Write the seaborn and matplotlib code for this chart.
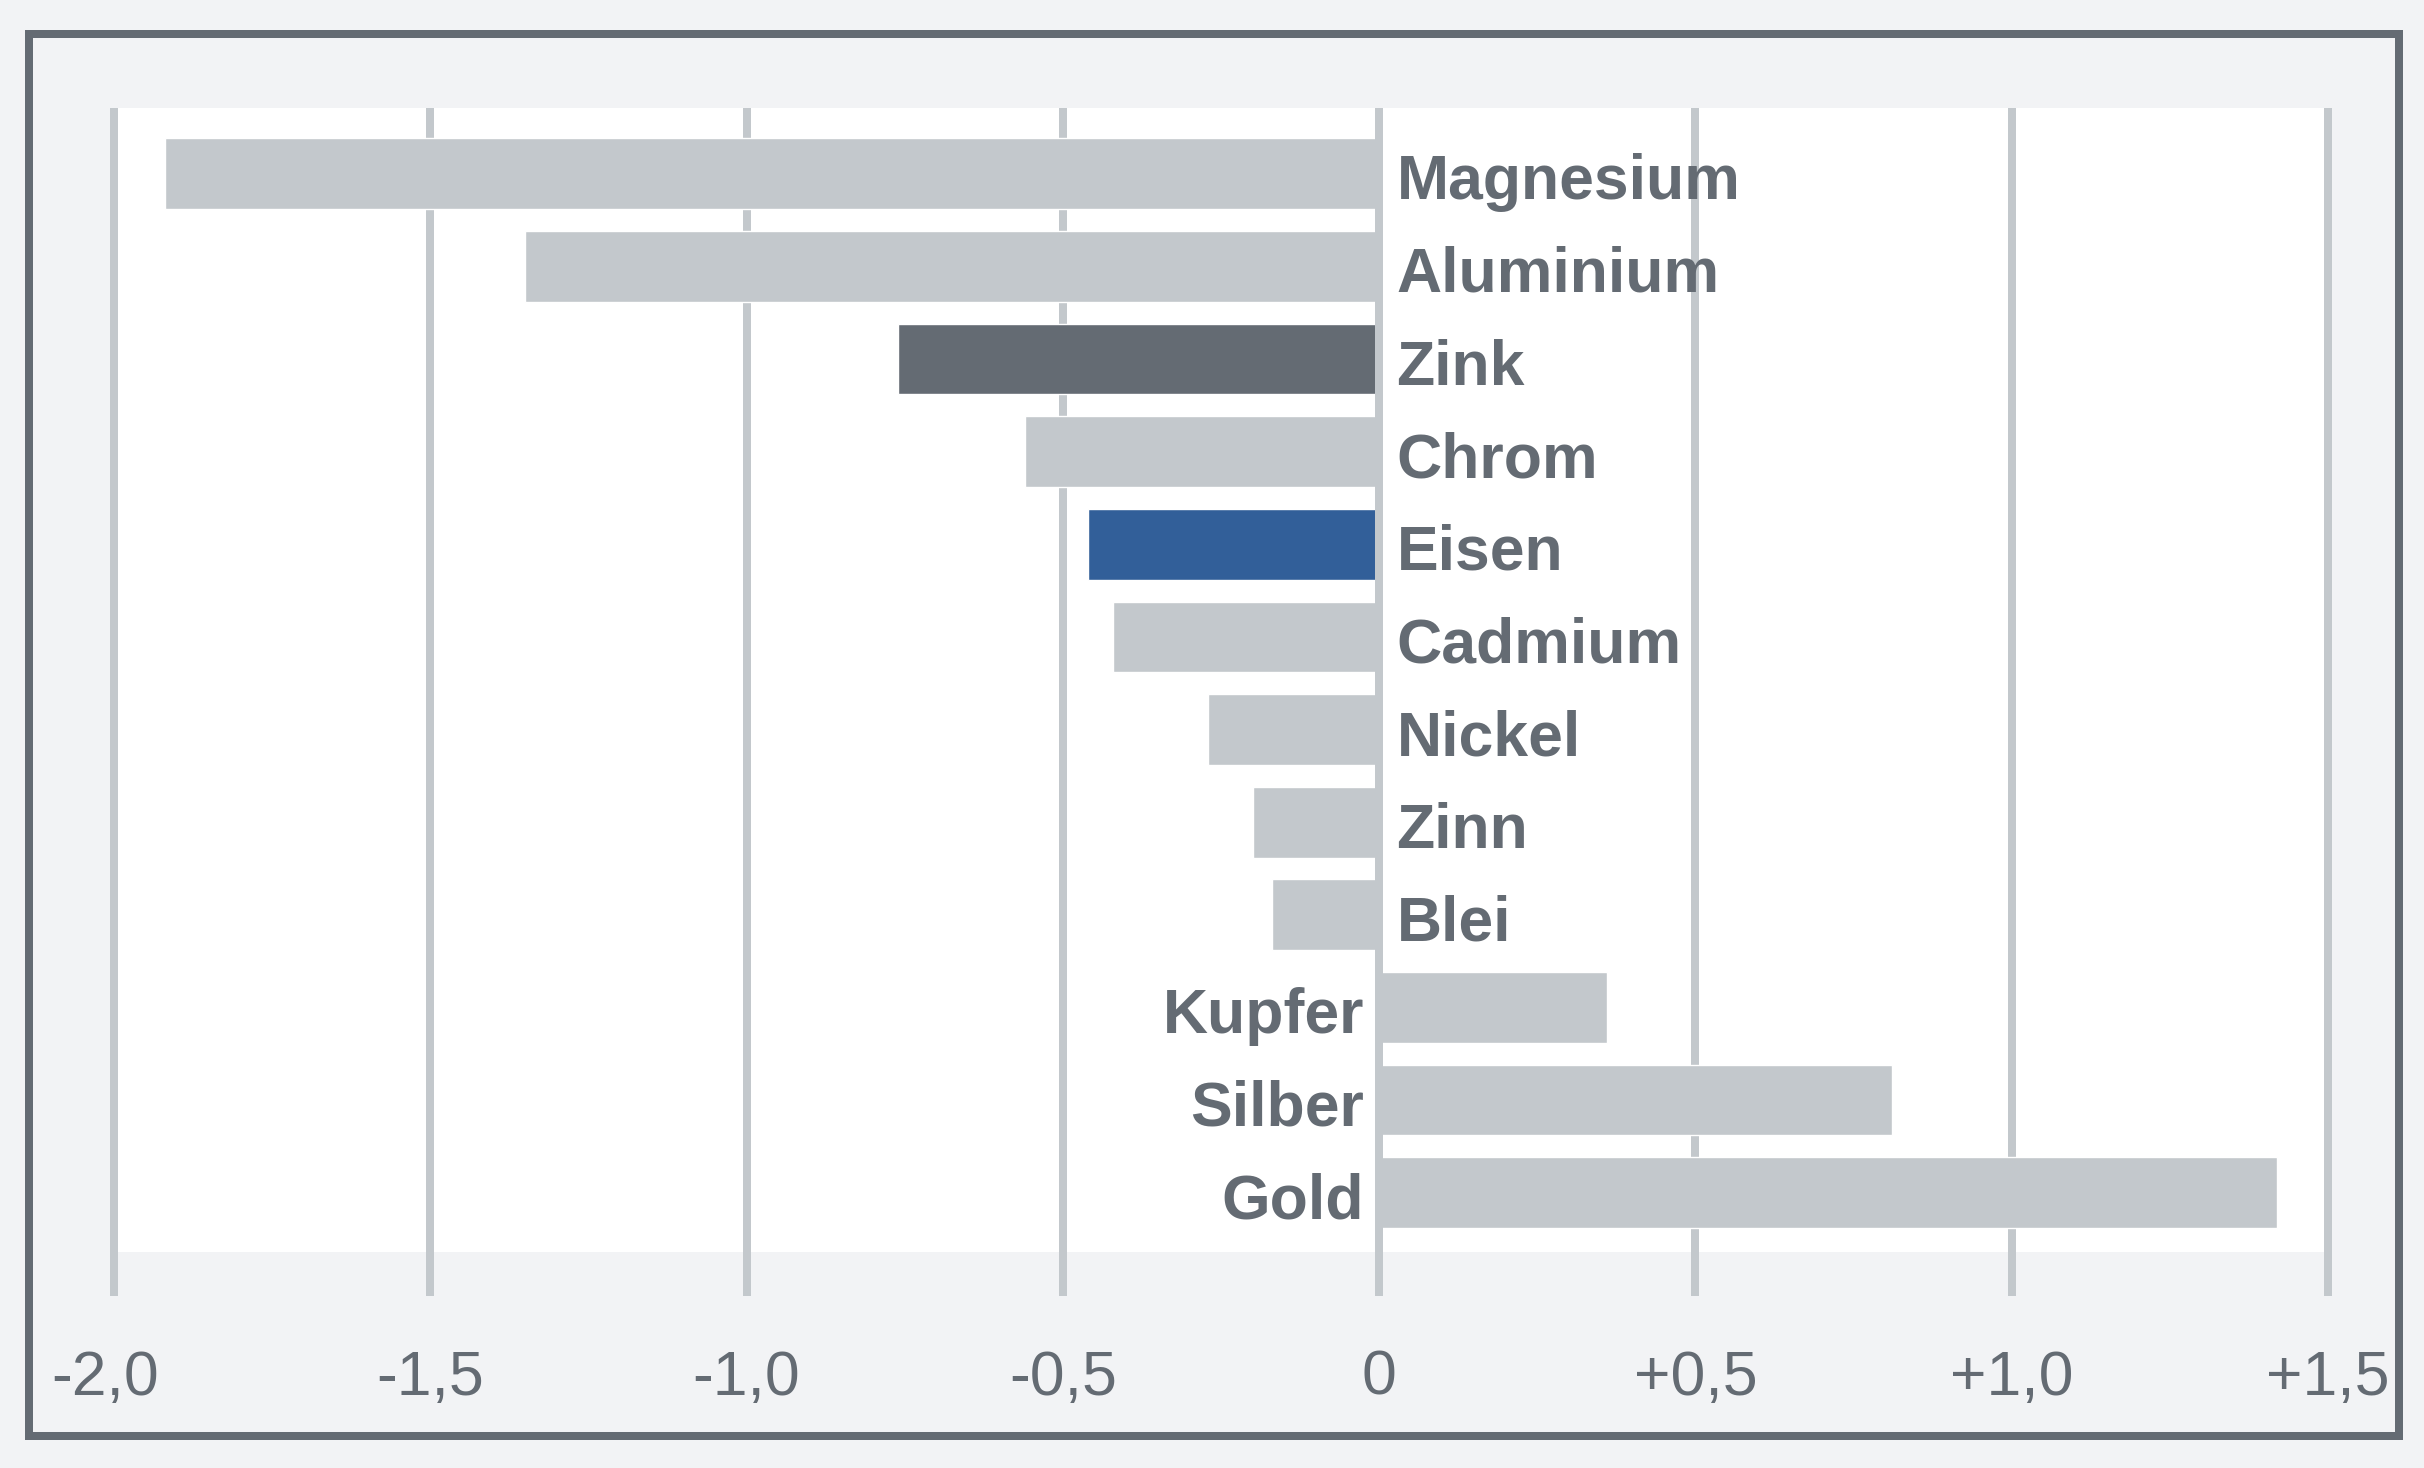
import pandas as pd
import matplotlib.pyplot as plt
import matplotlib.transforms as mtransforms
from matplotlib.patches import Rectangle
import seaborn as sns

# Spannungsreihe der Metalle
metalle = ["Magnesium", "Aluminium", "Zink", "Chrom", "Eisen", "Cadmium",
           "Nickel", "Zinn", "Blei", "Kupfer", "Silber", "Gold"]
spannung = [-1.92, -1.35, -0.76, -0.56, -0.46, -0.42,
            -0.27, -0.20, -0.17, 0.36, 0.81, 1.42]
ticks = [-2.0, -1.5, -1.0, -0.5, 0.0, 0.5, 1.0, 1.5]
tick_texte = ["-2,0", "-1,5", "-1,0", "-0,5", "0", "+0,5", "+1,0", "+1,5"]

# Farben
hell = "#c3c8cc"
dunkel = "#646b73"
blau = "#325f99"
hintergrund = "#f2f3f5"
farben = {m: hell for m in metalle}
farben["Zink"] = dunkel
farben["Eisen"] = blau

sns.set_style("white")
plt.rcParams["font.family"] = ["Liberation Sans", "DejaVu Sans"]

df = pd.DataFrame({"Metall": metalle, "Spannung": spannung})

W, H = 2424, 1468
fig = plt.figure(figsize=(W / 100, H / 100), dpi=100, facecolor=hintergrund)
ax = fig.add_axes([114 / W, 1 - 1252 / H, (2328 - 114) / W, (1252 - 108) / H])
ax.set_facecolor("white")

# Balkendiagramm
sns.barplot(data=df, x="Spannung", y="Metall", hue="Metall", palette=farben,
            orient="h", width=0.763, legend=False, saturation=1, ax=ax)

# Nulllinie ueber den Balken
ax.axvline(0, color=hell, lw=5.76, zorder=5, solid_capstyle="butt")

ax.set_xlim(-2.0, 1.5)
ax.set_ylim(11.64, -0.71)
ax.set_xticks(ticks)
ax.set_xticklabels(tick_texte)
ax.grid(axis="x", color=hell, lw=5.76)
ax.grid(axis="y", visible=False)
ax.set_axisbelow(True)
for s in ax.spines.values():
    s.set_visible(False)
ax.tick_params(axis="x", direction="out", length=31.7, width=5.76, color=hell,
               pad=38, labelsize=45, labelcolor=dunkel, bottom=True)
ax.tick_params(axis="y", left=False, labelleft=False)
ax.set_xlabel("")
ax.set_ylabel("")

# Randlinien nicht abschneiden
for g in ax.get_xgridlines():
    g.set_clip_on(False)
    g.set_solid_capstyle("butt")

# "-2,0" etwas nach links
lab = ax.get_xticklabels()[0]
lab.set_transform(lab.get_transform() + mtransforms.ScaledTranslation(-9 / 100, 0, fig.dpi_scale_trans))

# Beschriftung der Balken
for i, (m, v) in enumerate(zip(metalle, spannung)):
    if v < 0:
        ax.annotate(m, (0, i), xytext=(12.5, -18.4), textcoords="offset points",
                    ha="left", va="baseline", fontsize=45, fontweight="bold",
                    color=dunkel, zorder=6)
    else:
        ax.annotate(m, (0, i), xytext=(-10.8, -18.4), textcoords="offset points",
                    ha="right", va="baseline", fontsize=45, fontweight="bold",
                    color=dunkel, zorder=6)

# Rahmen
fig.patches.append(Rectangle((29 / W, 1 - 1436 / H), (2399 - 29) / W, (1436 - 34) / H,
                             transform=fig.transFigure, fill=False, ec=dunkel, lw=5.76))

fig.savefig("out.png", dpi=100, facecolor=hintergrund)
